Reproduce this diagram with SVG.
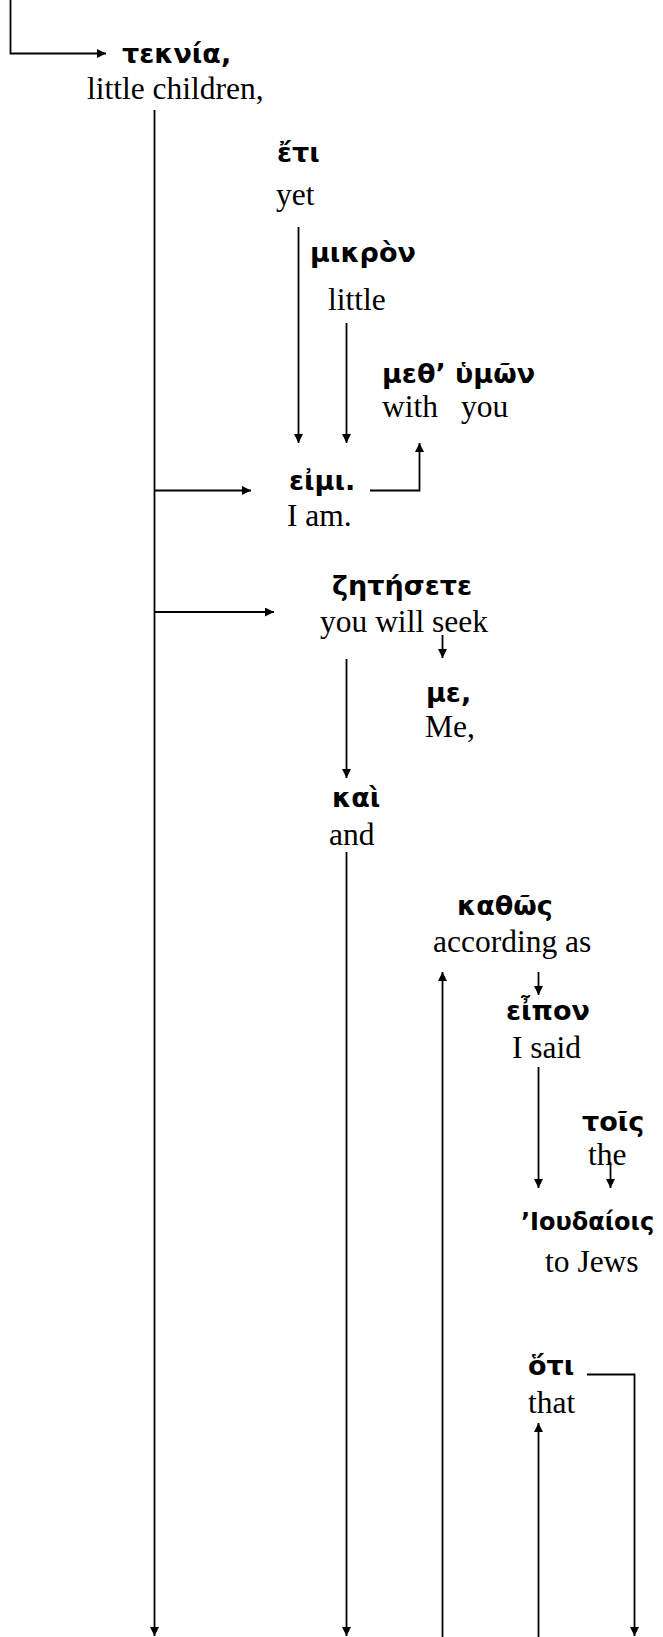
<svg xmlns="http://www.w3.org/2000/svg" width="663" height="1637" viewBox="0 0 663 1637">
<defs>
<marker id="ah" viewBox="0 0 10 10" refX="10" refY="5" markerWidth="10" markerHeight="9" markerUnits="userSpaceOnUse" orient="auto">
<path d="M0,0 L10,5 L0,10 z" fill="#000"/>
</marker>
<style>
.g{font-family:"DejaVu Sans","Noto Sans",sans-serif;font-weight:bold;font-size:27px;fill:#000}
.e{font-family:"Liberation Serif","Times New Roman",serif;font-size:31.5px;fill:#000}
.c{fill:none;stroke:#000;stroke-width:1.8}
.a{marker-end:url(#ah)}
</style>
</defs>
<rect width="663" height="1637" fill="#fff"/>
<g id="connectors">
<path class="c a" d="M10.5,0 V53.5 H106"/>
<path class="c a" d="M154.5,110 V1636"/>
<path class="c a" d="M154.5,490.5 H251"/>
<path class="c a" d="M154.5,612 H274"/>
<path class="c a" d="M298.5,227 V443"/>
<path class="c a" d="M346.5,323 V443"/>
<path class="c a" d="M370,490.5 H419.5 V443"/>
<path class="c a" d="M442.5,635 V658"/>
<path class="c a" d="M346.5,659 V778"/>
<path class="c a" d="M346.5,852 V1636"/>
<path class="c a" d="M442.5,1637 V972"/>
<path class="c a" d="M538.5,972 V995"/>
<path class="c a" d="M538.5,1067 V1188"/>
<path class="c a" d="M610.5,1162 V1188"/>
<path class="c a" d="M587,1374.5 H634.5 V1636"/>
<path class="c a" d="M538.5,1637 V1423"/>
</g>
<g id="n-teknia"><text class="g" x="122" y="63">τεκνία,</text><text class="e" x="87" y="99">little children,</text></g>
<g id="n-eti"><text class="g" x="277" y="162">ἔτι</text><text class="e" x="276" y="205">yet</text></g>
<g id="n-mikron"><text class="g" x="310" y="262">μικρὸν</text><text class="e" x="328" y="310">little</text></g>
<g id="n-meth"><text class="g" x="382" y="383">μεθ’ ὑμῶν</text><text class="e" x="382" y="417">with</text><text class="e" x="461" y="417">you</text></g>
<g id="n-eimi"><text class="g" x="289" y="490">εἰμι.</text><text class="e" x="287" y="526">I am.</text></g>
<g id="n-zetesete"><text class="g" x="332" y="595">ζητήσετε</text><text class="e" x="320" y="632">you will seek</text></g>
<g id="n-me"><text class="g" x="426" y="702">με,</text><text class="e" x="425" y="737">Me,</text></g>
<g id="n-kai"><text class="g" x="332" y="807">καὶ</text><text class="e" x="329" y="845">and</text></g>
<g id="n-kathos"><text class="g" x="457" y="915">καθῶς</text><text class="e" x="433" y="952">according as</text></g>
<g id="n-eipon"><text class="g" x="506" y="1020">εἶπον</text><text class="e" x="512" y="1058">I said</text></g>
<g id="n-tois"><text class="g" x="582" y="1131">τοῖς</text><text class="e" x="588" y="1165">the</text></g>
<g id="n-ioudaiois"><text class="g" x="521" y="1230" style="font-size:24px">’Ιουδαίοις</text><text class="e" x="545" y="1272">to Jews</text></g>
<g id="n-hoti"><text class="g" x="528" y="1375">ὅτι</text><text class="e" x="528" y="1413">that</text></g>
</svg>
